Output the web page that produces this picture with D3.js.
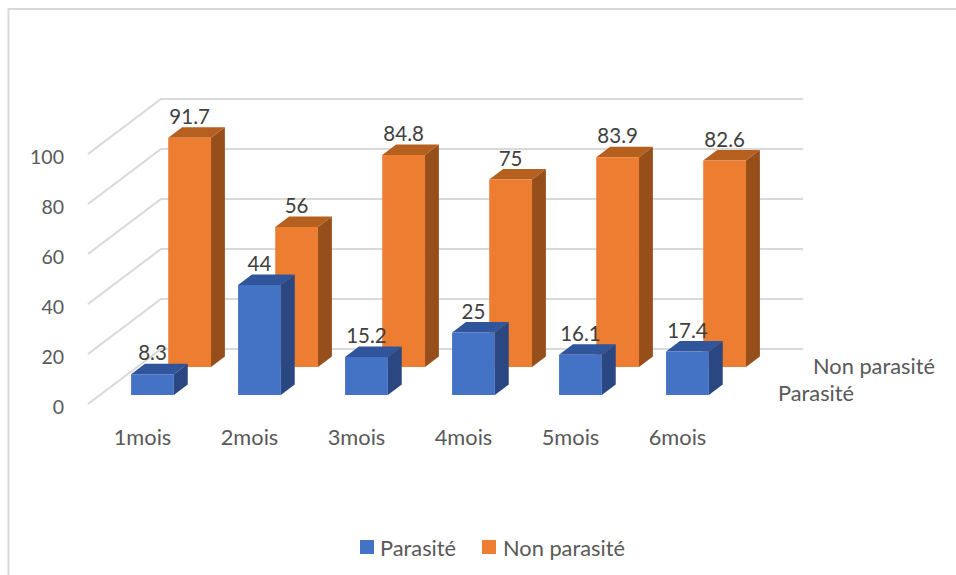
<!DOCTYPE html>
<html>
<head>
    <meta charset="utf-8">
    <title>Parasité / Non parasité</title>
    <script src="https://d3js.org/d3.v7.min.js"></script>
    <style>
        body { margin: 0; background: #fff; }
        svg { display: block; }
        text { font-family: Lato, "Open Sans", sans-serif; }
    </style>
</head>
<body>
<script>
const categories = ["1mois", "2mois", "3mois", "4mois", "5mois", "6mois"];
const parasite = [8.3, 44, 15.2, 25, 16.1, 17.4];
const nonParasite = [91.7, 56, 84.8, 75, 83.9, 82.6];
const yTicks = [0, 20, 40, 60, 80, 100];

const w = 956, h = 575;
const svg = d3.select("body").append("svg").attr("width", w).attr("height", h);

// chart frame, cut off by the page on the right and bottom
svg.append("path")
    .attr("d", `M${w + 2},9H8.5V${h + 2}`)
    .attr("fill", "none").attr("stroke", "#d9d9d9").attr("stroke-width", 2);

// front plane of the fake 3d box
const wallX = [88, 730];
const x = d3.scaleBand().domain(categories).range([87, 729]).paddingInner(0.6).paddingOuter(0.3);
const y = d3.scaleLinear().domain([0, 100]).range([404, 154]);

// oblique projection: depth 0 = front plane, 1 = back wall
const depthX = d3.scaleLinear().domain([0, 1]).range([0, 73]);
const depthY = d3.scaleLinear().domain([0, 1]).range([0, -55]);

// grid: diagonal on the floor side + line on the back wall
const grid = svg.append("g").attr("fill", "none").attr("stroke", "#d9d9d9").attr("stroke-width", 2);
grid.selectAll("path").data(yTicks).enter().append("path")
    .attr("d", d => d3.line()([
        [wallX[0], y(d)],
        [wallX[0] + depthX(1), y(d) + depthY(1)],
        [wallX[1] + depthX(1), y(d) + depthY(1)]
    ]));

const barDepth = 0.19;
function drawSeries(values, z, front, top, side) {
    const g = svg.append("g");
    values.forEach((v, i) => {
        const l = x(categories[i]) + depthX(z);
        const r = l + x.bandwidth();
        const b = y(0) + depthY(z);
        const t = y(v) + depthY(z);
        const dx = depthX(barDepth), dy = depthY(barDepth);
        g.append("path").attr("fill", top)
            .attr("d", d3.line()([[l, t], [l + dx, t + dy], [r + dx, t + dy], [r, t]]) + "Z");
        g.append("path").attr("fill", side)
            .attr("d", d3.line()([[r, t], [r + dx, t + dy], [r + dx, b + dy], [r, b]]) + "Z");
        g.append("rect").attr("fill", front)
            .attr("x", l).attr("y", t).attr("width", r - l).attr("height", b - t);
    });
}

const zBlue = 0.164, zOrange = 0.673;
drawSeries(nonParasite, zOrange, "#ed7d31", "#b5601f", "#964f1a");
drawSeries(parasite, zBlue, "#4472c4", "#30559a", "#2a4782");

function drawLabels(values, z) {
    svg.append("g").selectAll("text").data(values).enter().append("text")
        .attr("x", (d, i) => x(categories[i]) + depthX(z) + x.bandwidth() / 2)
        .attr("y", d => y(d) + depthY(z) - 21)
        .attr("dy", "0.35em")
        .attr("text-anchor", "middle")
        .attr("font-size", 20.5)
        .attr("fill", "#404040")
        .text(d => d);
}
drawLabels(nonParasite, zOrange);
drawLabels(parasite, zBlue);

// value axis
const yAxis = d3.axisLeft(y).tickValues(yTicks).tickSize(0).tickPadding(0);
const yG = svg.append("g").attr("transform", "translate(64,3)").call(yAxis);
yG.select(".domain").remove();
yG.selectAll("text").attr("font-size", 19.5).attr("fill", "#595959").style("font-family", "Lato, sans-serif");

// category axis
const xAxis = d3.axisBottom(x).tickSize(0).tickPadding(0);
const xG = svg.append("g").attr("transform", "translate(2,430)").call(xAxis);
xG.select(".domain").remove();
xG.selectAll("text").attr("font-size", 21.8).attr("fill", "#595959").style("font-family", "Lato, sans-serif");

// series names at the end of the depth axis
const seriesNames = ["Parasité", "Non parasité"];
const seriesColors = ["#4472c4", "#ed7d31"];
svg.append("g").selectAll("text").data(seriesNames).enter().append("text")
    .attr("x", (d, i) => i === 0 ? 778 : 813)
    .attr("y", (d, i) => i === 0 ? 393 : 366)
    .attr("dy", "0.35em")
    .attr("font-size", 21.8)
    .attr("fill", "#595959")
    .text(d => d);

// legend
const legend = svg.append("g").selectAll("g").data(seriesNames).enter().append("g")
    .attr("transform", (d, i) => `translate(${i === 0 ? 360 : 482},540)`);
legend.append("rect").attr("width", 14).attr("height", 14).attr("fill", (d, i) => seriesColors[i]);
legend.append("text")
    .attr("x", (d, i) => i === 0 ? 20 : 21)
    .attr("y", 8)
    .attr("dy", "0.35em")
    .attr("font-size", 21.8)
    .attr("fill", "#595959")
    .text(d => d);
</script>
</body>
</html>
